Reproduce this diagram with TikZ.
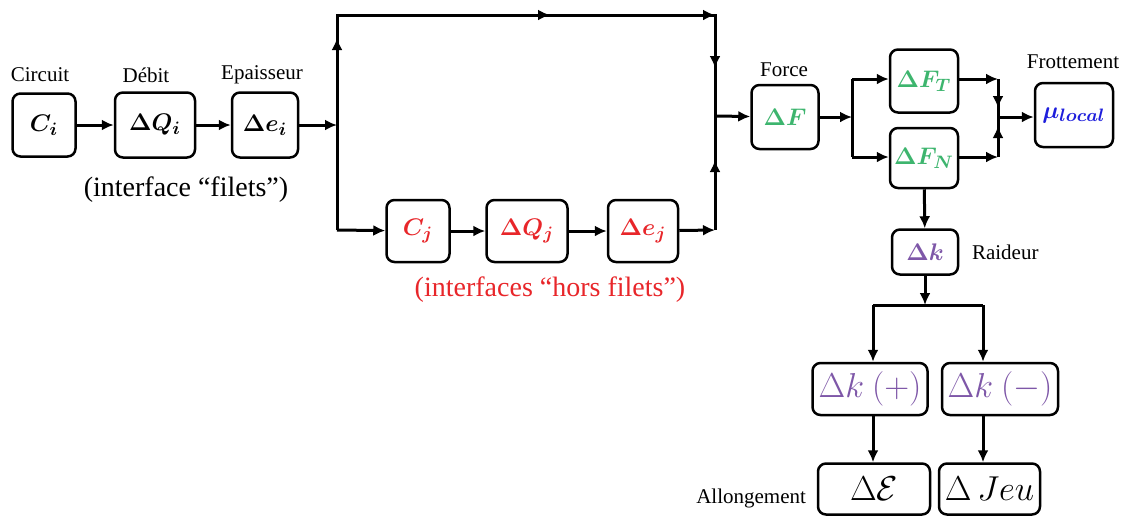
\documentclass[tikz,border=0pt]{standalone}
\usepackage{amsmath}
\usepackage{fontspec}
\setmainfont{Liberation Serif}
\usetikzlibrary{arrows.meta}

\definecolor{vert}{RGB}{61,181,110}
\definecolor{rouge}{RGB}{232,38,42}
\definecolor{violet}{RGB}{126,87,168}
\definecolor{bleu}{RGB}{30,30,220}

\tikzset{
    boite/.style={draw, line width=1.25pt, rounded corners=4pt, fill=white, inner sep=1pt, font=\fontsize{12.5}{14}\selectfont},
    grande/.style={boite, font=\fontsize{16}{18}\selectfont},
    legende/.style={font=\fontsize{10.5}{12}\selectfont},
    titre/.style={font=\fontsize{14}{16}\selectfont},
    fil/.style={line width=1.5pt},
    fleche/.style={fil, -{Latex[length=6pt,width=5.5pt]}},
}

\begin{document}
\begin{tikzpicture}[x=0.5pt, y=-0.5pt]
    \useasboundingbox (0,0) rectangle (1124,516);
    %%% Interfaces "filets"
    \node[boite, minimum width=31.5pt, minimum height=31.5pt] (ci) at (44,125) {$\boldsymbol{C_i}$};
    \node[boite, minimum width=40pt, minimum height=32.5pt] (qi) at (155,125) {$\boldsymbol{\Delta Q_i}$};
    \node[boite, minimum width=33pt, minimum height=32.5pt] (ei) at (265,125) {$\boldsymbol{\Delta e_i}$};
    \node[legende] (lci) at (40,75) {Circuit};
    \node[legende] (lqi) at (146,75) {Débit};
    \node[legende] (lei) at (262,75) {Epaisseur};
    \node[titre] (tfil) at (186,190) {(interface “filets”)};
    %
    \draw[fleche] (ci) -- (qi);
    \draw[fleche] (qi) -- (ei);
    %
    %%% Junctions
    \coordinate (sp) at (337,125);
    \coordinate (tl) at (337,15);
    \coordinate (tu) at (337,38);
    \coordinate (tm) at (550,15);
    \coordinate (tr) at (715,15);
    \coordinate (td) at (715,68);
    \coordinate (bl) at (337,230);
    \coordinate (br) at (715,230);
    \coordinate (bu) at (715,160);
    \coordinate (jn) at (715,116);
    %
    \draw[fleche] (ei) -- (sp);
    \draw[fil] (bl) -- (tl) -- (tr) -- (br);
    \draw[fleche] (sp) -- (tu);
    \draw[fleche] (tl) -- (tm);
    \draw[fleche] (tm) -- (tr);
    \draw[fleche] (tr) -- (td);
    \draw[fleche] (br) -- (bu);
    %
    %%% Interfaces "hors filets"
    \node[boite, minimum width=31.5pt, minimum height=31pt, text=rouge] (cj) at (418,231) {$\boldsymbol{C_j}$};
    \node[boite, minimum width=40.5pt, minimum height=31pt, text=rouge] (qj) at (527,231) {$\boldsymbol{\Delta Q_j}$};
    \node[boite, minimum width=35pt, minimum height=31pt, text=rouge] (ej) at (643,231) {$\boldsymbol{\Delta e_j}$};
    \node[titre, text=rouge] (thf) at (550,290) {(interfaces “hors filets”)};
    %
    \draw[fleche] (bl) -- (cj);
    \draw[fleche] (cj) -- (qj);
    \draw[fleche] (qj) -- (ej);
    \draw[fleche] (ej) -- (br);
    %
    %%% Force et frottement
    \node[boite, minimum width=33.5pt, minimum height=32pt, text=vert] (df) at (785,117) {$\boldsymbol{\Delta F}$};
    \node[legende] (ldf) at (784,70) {Force};
    \node[boite, minimum width=34pt, minimum height=31.5pt, text=vert] (dft) at (924,81) {$\boldsymbol{\Delta F_T}$};
    \node[boite, minimum width=34pt, minimum height=30pt, text=vert] (dfn) at (924,158) {$\boldsymbol{\Delta F_N}$};
    \node[boite, minimum width=39pt, minimum height=32pt, text=bleu] (mu) at (1074,115) {$\boldsymbol{\mu_{local}}$};
    \node[legende] (lmu) at (1073,62) {Frottement};
    %
    \coordinate (fs) at (852,117);
    \coordinate (fst) at (852,79);
    \coordinate (fsn) at (852,157);
    \coordinate (mt) at (998,79);
    \coordinate (mn) at (998,157);
    \coordinate (md) at (998,108);
    \coordinate (mup) at (998,126);
    \coordinate (mj) at (998,117);
    %
    \draw[fleche] (jn) -- (df);
    \draw[fleche] (df) -- (fs);
    \draw[fil] (fst) -- (fsn);
    \draw[fleche] (fst) -- (dft.west |- fst);
    \draw[fleche] (fsn) -- (dfn.west |- fsn);
    \draw[fleche] (dft.east |- mt) -- (mt);
    \draw[fleche] (dfn.east |- mn) -- (mn);
    \draw[fil] (mt) -- (mn);
    \draw[fleche] (mt) -- (md);
    \draw[fleche] (mn) -- (mup);
    \draw[fleche] (mj) -- (mu.west |- mj);
    %
    %%% Raideur
    \node[boite, minimum width=33pt, minimum height=22.5pt, text=violet] (dk) at (925,252) {$\boldsymbol{\Delta k}$};
    \node[legende, anchor=west] (ldk) at (965,252) {Raideur};
    \draw[fleche] (dfn) -- (dk);
    %
    \node[grande, minimum width=57.5pt, minimum height=26pt, text=violet] (kp) at (870,389) {$\Delta k\ (+)$};
    \node[grande, minimum width=58pt, minimum height=26pt, text=violet] (km) at (1000,389) {$\Delta k\ (-)$};
    \node[grande, minimum width=56pt, minimum height=25.5pt] (de) at (874,489) {$\Delta \mathcal{E}$};
    \node[grande, minimum width=50.5pt, minimum height=25.5pt] (dj) at (989.5,489) {$\Delta\,Jeu$};
    \node[legende, anchor=east] (lde) at (813,498) {Allongement};
    %
    \coordinate (ks) at (925,305);
    \coordinate (kl) at (873,305);
    \coordinate (kr) at (983,305);
    \draw[fleche] (dk) -- (ks);
    \draw[fil] (kl) -- (kr);
    \draw[fleche] (kl) -- (kl |- kp.north);
    \draw[fleche] (kr) -- (kr |- km.north);
    \draw[fleche] (kl |- kp.south) -- (kl |- de.north);
    \draw[fleche] (kr |- km.south) -- (kr |- dj.north);
\end{tikzpicture}
\end{document}
